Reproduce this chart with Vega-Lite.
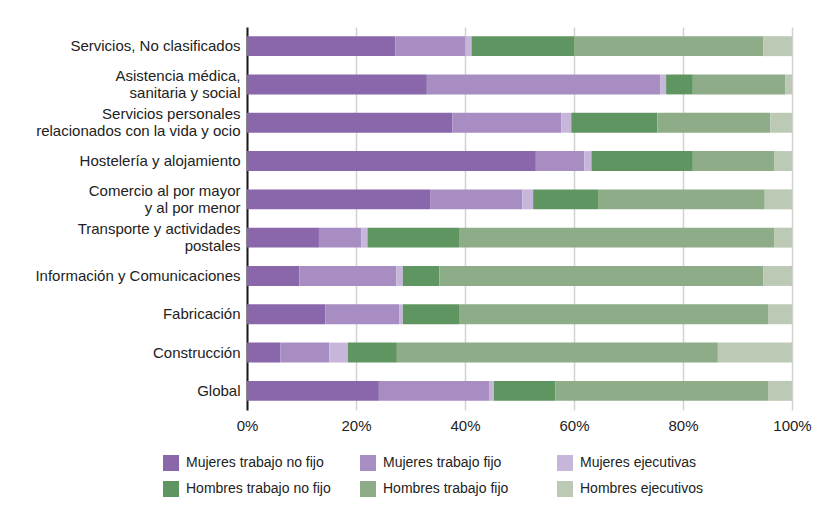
{
  "$schema": "https://vega.github.io/schema/vega-lite/v6.json",
  "autosize": "none",
  "width": 545,
  "height": 383,
  "padding": {"left": 247, "top": 27, "right": 36, "bottom": 96},
  "background": "white",
  "config": {
    "font": "Liberation Sans",
    "view": {"stroke": null}
  },
  "data": {
    "values": [
      {"sector": "Servicios, No clasificados", "Mujeres trabajo no fijo": 27.2, "Mujeres trabajo fijo": 12.9, "Mujeres ejecutivas": 1.1, "Hombres trabajo no fijo": 18.8, "Hombres trabajo fijo": 34.7, "Hombres ejecutivos": 5.3},
      {"sector": "Asistencia médica,|sanitaria y social", "Mujeres trabajo no fijo": 33.0, "Mujeres trabajo fijo": 42.8, "Mujeres ejecutivas": 1.1, "Hombres trabajo no fijo": 4.9, "Hombres trabajo fijo": 17.0, "Hombres ejecutivos": 1.2},
      {"sector": "Servicios personales|relacionados con la vida y ocio", "Mujeres trabajo no fijo": 37.7, "Mujeres trabajo fijo": 20.0, "Mujeres ejecutivas": 1.8, "Hombres trabajo no fijo": 15.8, "Hombres trabajo fijo": 20.7, "Hombres ejecutivos": 4.0},
      {"sector": "Hostelería y alojamiento", "Mujeres trabajo no fijo": 53.0, "Mujeres trabajo fijo": 8.9, "Mujeres ejecutivas": 1.3, "Hombres trabajo no fijo": 18.6, "Hombres trabajo fijo": 15.0, "Hombres ejecutivos": 3.2},
      {"sector": "Comercio al por mayor|y al por menor", "Mujeres trabajo no fijo": 33.6, "Mujeres trabajo fijo": 16.9, "Mujeres ejecutivas": 2.0, "Hombres trabajo no fijo": 11.9, "Hombres trabajo fijo": 30.6, "Hombres ejecutivos": 5.0},
      {"sector": "Transporte y actividades|postales", "Mujeres trabajo no fijo": 13.2, "Mujeres trabajo fijo": 7.8, "Mujeres ejecutivas": 1.1, "Hombres trabajo no fijo": 16.8, "Hombres trabajo fijo": 57.9, "Hombres ejecutivos": 3.2},
      {"sector": "Información y Comunicaciones", "Mujeres trabajo no fijo": 9.6, "Mujeres trabajo fijo": 17.8, "Mujeres ejecutivas": 1.2, "Hombres trabajo no fijo": 6.7, "Hombres trabajo fijo": 59.4, "Hombres ejecutivos": 5.3},
      {"sector": "Fabricación", "Mujeres trabajo no fijo": 14.4, "Mujeres trabajo fijo": 13.5, "Mujeres ejecutivas": 0.7, "Hombres trabajo no fijo": 10.3, "Hombres trabajo fijo": 56.7, "Hombres ejecutivos": 4.4},
      {"sector": "Construcción", "Mujeres trabajo no fijo": 6.1, "Mujeres trabajo fijo": 9.0, "Mujeres ejecutivas": 3.4, "Hombres trabajo no fijo": 9.0, "Hombres trabajo fijo": 58.9, "Hombres ejecutivos": 13.6},
      {"sector": "Global", "Mujeres trabajo no fijo": 24.2, "Mujeres trabajo fijo": 20.2, "Mujeres ejecutivas": 0.9, "Hombres trabajo no fijo": 11.3, "Hombres trabajo fijo": 39.0, "Hombres ejecutivos": 4.4}
    ]
  },
  "transform": [
    {"fold": ["Mujeres trabajo no fijo", "Mujeres trabajo fijo", "Mujeres ejecutivas", "Hombres trabajo no fijo", "Hombres trabajo fijo", "Hombres ejecutivos"], "as": ["grupo", "valor"]}
  ],
  "mark": {"type": "bar"},
  "encoding": {
    "y": {
      "field": "sector",
      "type": "nominal",
      "sort": null,
      "scale": {"paddingInner": 0.48, "paddingOuter": 0.24},
      "axis": {
        "title": null,
        "ticks": false,
        "labelExpr": "split(datum.label, '|')",
        "labelFontSize": 15,
        "labelColor": "#222222",
        "labelLineHeight": 17,
        "labelPadding": 7,
        "labelLimit": 300,
        "labelOffset": {"condition": {"test": "indexof(datum.value, '|') >= 0", "value": -8.5}, "value": 0},
        "domainColor": "#1a1a1a",
        "domainWidth": 2,
        "grid": false
      }
    },
    "x": {
      "field": "valor",
      "type": "quantitative",
      "stack": "normalize",
      "scale": {"domain": [0, 1]},
      "axis": {
        "title": null,
        "values": [0, 0.2, 0.4, 0.6, 0.8, 1],
        "format": ".0%",
        "domain": false,
        "ticks": false,
        "grid": true,
        "gridColor": "#d2d2d2",
        "gridWidth": 1.5,
        "labelFontSize": 15,
        "labelColor": "#222222",
        "labelPadding": 8,
        "labelFlush": false
      }
    },
    "order": {"field": "grupo", "type": "nominal", "sort": "descending"},
    "color": {
      "field": "grupo",
      "type": "nominal",
      "scale": {
        "domain": ["Mujeres trabajo no fijo", "Mujeres trabajo fijo", "Mujeres ejecutivas", "Hombres trabajo no fijo", "Hombres trabajo fijo", "Hombres ejecutivos"],
        "range": ["#8a67ab", "#a78dc2", "#c6b7da", "#5f9560", "#8dac87", "#bcc9b4"]
      },
      "legend": {
        "title": null,
        "orient": "none",
        "legendX": -84,
        "legendY": 428,
        "direction": "horizontal",
        "columns": 3,
        "gridAlign": "all",
        "columnPadding": 29,
        "rowPadding": 10,
        "symbolType": "square",
        "symbolSize": 256,
        "symbolStrokeWidth": 0,
        "labelFontSize": 14,
        "labelColor": "#222222",
        "labelOffset": 7,
        "labelLimit": 300
      }
    }
  }
}
